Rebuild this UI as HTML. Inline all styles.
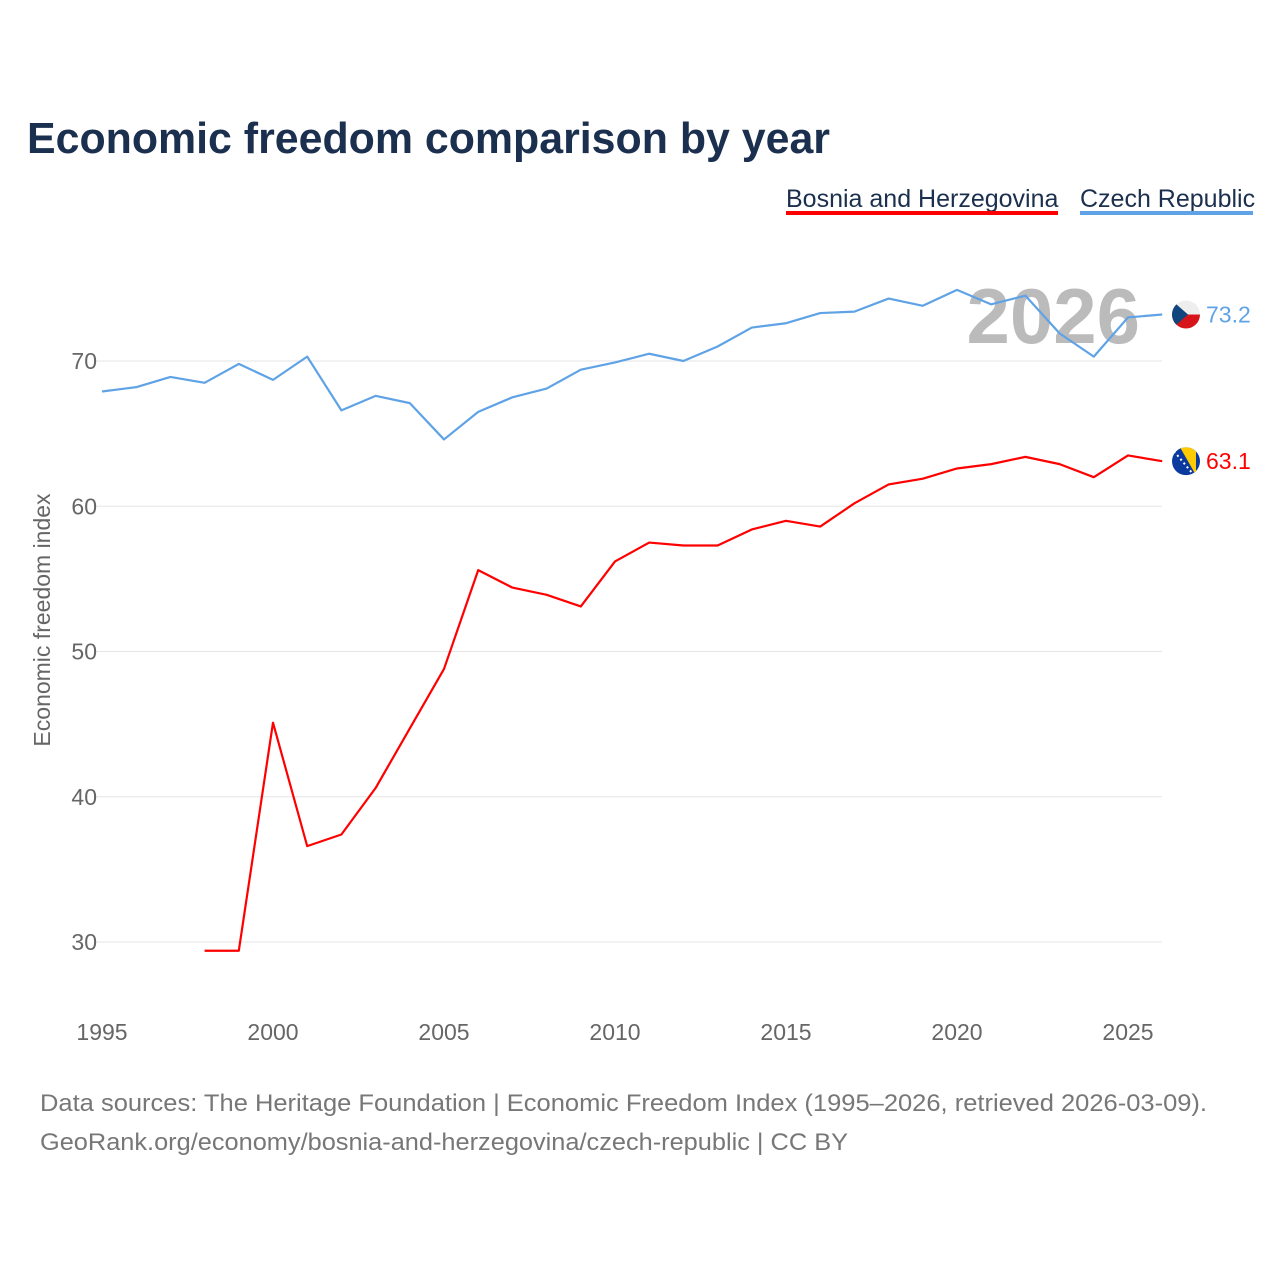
<!DOCTYPE html>
<html><head><meta charset="utf-8"><style>
body{margin:0;background:#fff;font-family:"Liberation Sans",sans-serif;}
</style></head><body>
<svg id="chart" width="1280" height="1280" xmlns="http://www.w3.org/2000/svg" style="display:block">
<rect width="1280" height="1280" fill="#fff"/>
<text x="27" y="153" font-size="44" font-weight="bold" fill="#1b2f4e" textLength="803" lengthAdjust="spacingAndGlyphs">Economic freedom comparison by year</text>
<g>
<text x="786" y="207" font-size="25" fill="#1b2f4e">Bosnia and Herzegovina</text>
<rect x="786" y="211" width="272" height="4" fill="#ff0000"/>
</g>
<g>
<text x="1080" y="207" font-size="25" fill="#1b2f4e">Czech Republic</text>
<rect x="1080" y="211" width="173" height="4" fill="#5fa3e6"/>
</g>
<text x="1140" y="343" text-anchor="end" font-size="78" font-weight="bold" fill="#bbbbbb">2026</text>
<g id="grid"></g>
<g id="yticks"></g>
<g id="xticks"></g>
<text transform="translate(50,620) rotate(-90)" text-anchor="middle" font-size="23" fill="#666">Economic freedom index</text>
<g id="series"></g>
<g id="flagcz">
<clipPath id="cc"><circle cx="0" cy="0" r="14"/></clipPath>
<g clip-path="url(#cc)"><rect x="-14" y="-14" width="28" height="14" fill="#eeeeee"/><rect x="-14" y="0" width="28" height="14" fill="#d7141a"/><polygon points="-14,-14 2,0 -14,14" fill="#11457e"/></g>
</g>
<g id="flagba">
<clipPath id="cb"><circle cx="0" cy="0" r="14"/></clipPath>
<g clip-path="url(#cb)"><rect x="-14" y="-14" width="28" height="28" fill="#0a3a9e"/><polygon points="-6,-14 10,-14 10,14" fill="#fecb00"/><line x1="-12" y1="-10" x2="8" y2="14" stroke="#fff" stroke-width="2" stroke-dasharray="2 3"/></g>
</g>
<text id="lblcz" x="1206" font-size="23" fill="#5fa3e6"></text>
<text id="lblba" x="1206" font-size="23" fill="#ff0000"></text>
<text x="40" y="1111" font-size="24" fill="#777" textLength="1167" lengthAdjust="spacingAndGlyphs">Data sources: The Heritage Foundation | Economic Freedom Index (1995–2026, retrieved 2026-03-09).</text>
<text x="40" y="1150" font-size="24" fill="#777" textLength="808" lengthAdjust="spacingAndGlyphs">GeoRank.org/economy/bosnia-and-herzegovina/czech-republic | CC BY</text>
</svg>
<script>
const czechYears=[1995,1996,1997,1998,1999,2000,2001,2002,2003,2004,2005,2006,2007,2008,2009,2010,2011,2012,2013,2014,2015,2016,2017,2018,2019,2020,2021,2022,2023,2024,2025,2026];
const czechValues=[67.9,68.2,68.9,68.5,69.8,68.7,70.3,66.6,67.6,67.1,64.6,66.5,67.5,68.1,69.4,69.9,70.5,70.0,71.0,72.3,72.6,73.3,73.4,74.3,73.8,74.9,73.9,74.5,71.9,70.3,73.0,73.2];
const bosniaYears=[1998,1999,2000,2001,2002,2003,2004,2005,2006,2007,2008,2009,2010,2011,2012,2013,2014,2015,2016,2017,2018,2019,2020,2021,2022,2023,2024,2025,2026];
const bosniaValues=[29.4,29.4,45.1,36.6,37.4,40.6,44.7,48.8,55.6,54.4,53.9,53.1,56.2,57.5,57.3,57.3,58.4,59.0,58.6,60.2,61.5,61.9,62.6,62.9,63.4,62.9,62.0,63.5,63.1];
const yTickValues=[30,40,50,60,70];
const xTickValues=[1995,2000,2005,2010,2015,2020,2025];
const NS="http://www.w3.org/2000/svg";
function xs(y){return 102+(y-1995)*(1128-102)/30;}
function ys(v){return 942-(v-30)*(942-361)/40;}
function mk(t,a){const e=document.createElementNS(NS,t);for(const k in a)e.setAttribute(k,a[k]);return e;}
const grid=document.getElementById('grid'),yt=document.getElementById('yticks'),xt=document.getElementById('xticks');
yTickValues.forEach(v=>{
 const l=mk('line',{x1:95,x2:1162,y1:ys(v),y2:ys(v),stroke:'#e6e6e6','stroke-width':1});
 
 
 grid.appendChild(l);
 const t=mk('text',{x:97,y:ys(v)+8,'text-anchor':'end','font-size':23,fill:'#666'});t.textContent=v;
 
 
 yt.appendChild(t);
});
xTickValues.forEach(v=>{
 const t=mk('text',{x:xs(v),y:1040,'text-anchor':'middle','font-size':23,fill:'#666'});t.textContent=v;
 
 
 xt.appendChild(t);
});
const s=document.getElementById('series');
function line(yrs,vals,c,n){
 const p=mk('polyline',{points:yrs.map((y,i)=>xs(y)+','+ys(vals[i])).join(' '),fill:'none',stroke:c,'stroke-width':2.2,'stroke-linejoin':'round'});
 
 
 s.appendChild(p);
}
line(czechYears,czechValues,'#5fa3e6','line-czech');
line(bosniaYears,bosniaValues,'#ff0000','line-bosnia');
const cz=czechValues[czechValues.length-1],ba=bosniaValues[bosniaValues.length-1];
document.getElementById('flagcz').setAttribute('transform','translate(1186,'+ys(cz)+')');
document.getElementById('flagba').setAttribute('transform','translate(1186,'+ys(ba)+')');
const lc=document.getElementById('lblcz');lc.setAttribute('y',ys(cz)+8);lc.textContent=cz.toFixed(1);
const lb=document.getElementById('lblba');lb.setAttribute('y',ys(ba)+8);lb.textContent=ba.toFixed(1);
</script>
</body></html>
